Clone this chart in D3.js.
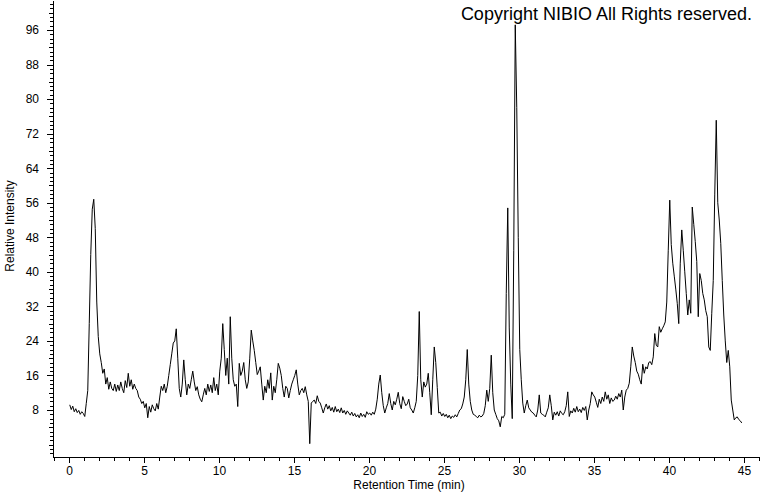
<!DOCTYPE html>
<html lang="en">
<head>
  <meta charset="UTF-8" />
  <title>Chromatogram</title>
  <script src="https://d3js.org/d3.v7.min.js"></script>
  <style>
    body {
      margin: 0;
      background: #fff;
      font-family: "Liberation Sans", Arial, sans-serif;
    }
    .axis text {
      font-family: "Liberation Sans", Arial, sans-serif;
      font-size: 12px;
      fill: #000;
    }
    .axis path, .axis line {
      stroke: #000;
      shape-rendering: crispEdges;
    }
    .trace {
      fill: none;
      stroke: #000;
      stroke-width: 1;
    }
  </style>
</head>
<body>
<svg id="chart" width="760" height="492"></svg>
<script>
// sampling of the trace (minutes)
const startTime = 0.05;
const step = 0.1;

// relative intensity, one row per minute
const intensity = [
  9.2, 8.1, 8.9, 7.6, 8.3, 7.4, 7.9, 7.0, 7.6, 7.2,
  6.5, 9.5, 12.5, 28, 44, 54.5, 56.8, 50, 33, 25,
  21, 19, 16.5, 17.5, 14, 15.5, 12.8, 14.5, 13, 12.5,
  14, 12.3, 13.8, 12.5, 14.5, 13, 12, 14.8, 13.2, 16.5,
  13.5, 15, 12.8, 14, 13, 12.5, 11, 10.5, 9.5, 10,
  8.5, 9.5, 6.2, 8.8, 7.5, 9.2, 8.3, 7.8, 9.5, 8.2,
  11, 13.5, 12.5, 14, 12, 13.5, 16, 18.5, 21, 23.5,
  24, 26.8, 20, 13, 11, 14, 19.6, 15, 11.5, 14,
  13, 15, 17, 14.5, 12.5, 13.4, 11.5, 10.5, 9.9, 11.5,
  13, 11.5, 14, 12.3, 13.8, 12, 15.5, 12.5, 14, 11.5,
  17, 20, 28, 22, 16, 20, 14, 29.6, 20, 15,
  13.5, 14, 8.8, 18.8, 16, 17, 19, 15, 13, 14.5,
  20, 26.5, 24, 21.8, 19, 16.2, 17, 18, 14, 10.3,
  13.5, 12, 15, 13, 16.6, 10.3, 13.5, 12, 15, 18.8,
  17.7, 16, 13, 11, 13.5, 13, 10.8, 12.5, 14, 15,
  16, 17.3, 14, 11.5, 12.5, 13, 12, 13.4, 11.5, 10,
  0.2, 9.6, 10, 10.3, 9.5, 11.3, 10, 9.6, 8.5, 7.3,
  8.5, 9.4, 8.2, 9, 7.8, 8.6, 7.5, 8.8, 7.6, 8.2,
  7.4, 8.5, 7.3, 7.9, 7.0, 7.8, 7.3, 6.8, 7.5, 6.6,
  7.2, 6.4, 6.9, 6.2, 7.3, 6.5, 7.0, 6.3, 7.6, 7.0,
  7.3, 6.8, 7.5, 7.0, 8.2, 10.5, 14, 16.1, 12, 9,
  7.3, 8.5, 9.5, 11.8, 9.5, 8, 10, 9.2, 10.5, 12.1,
  9.5, 8.3, 11.1, 10, 9, 9.4, 10.5, 8.5, 8, 7.3,
  8.5, 10, 16, 30.8, 15, 11, 14.5, 13.3, 14, 16.5,
  12, 6.9, 15, 22.6, 19, 13.2, 7.3, 7.5, 6.6, 7.2,
  6.5, 7, 6.2, 6.8, 6.0, 6.6, 6.3, 6.9, 6.4, 7.2,
  8, 8.3, 9.4, 11, 15, 22, 14, 10, 8, 7,
  6.8, 6.5, 6.2, 6.8, 6.4, 6.6, 7.2, 9, 12.6, 10,
  13, 20.7, 12, 8, 7, 6, 5.5, 4.1, 6.5, 6.2,
  7, 35, 54.8, 27, 14, 6, 45, 97.2, 78, 48,
  22, 15, 9.6, 7.3, 9, 10.3, 8.5, 8, 7.5, 7.3,
  6.8, 6.4, 8, 11.5, 7.3, 7, 6.8, 6.4, 7.5, 8.5,
  11.5, 9, 5.7, 7.5, 6.8, 7.6, 6.6, 7.8, 7.2, 6.9,
  7.6, 9, 12.2, 6.5, 7.8, 7.3, 8.4, 7.5, 8.8, 7.6,
  8.2, 7.4, 8.6, 7.9, 8.8, 5.7, 8, 9.5, 12.2, 11.5,
  11, 9.8, 8.6, 10.5, 9.5, 11, 10, 12.2, 10.5, 11.5,
  9.5, 10.8, 10, 10.3, 11.2, 10.5, 11.8, 11, 12.6, 8,
  11, 12.6, 13, 14.2, 18, 22.6, 20.5, 19, 17, 16.3,
  15, 14, 18.6, 16.5, 18, 17.5, 19, 19.2, 18.5, 20.3,
  25.7, 23, 22.6, 27.3, 26, 26.8, 27.5, 28.4, 33, 45,
  56.6, 46.3, 42, 39, 36, 32.7, 28, 42, 49.7, 45,
  40, 35, 30, 33.5, 30.4, 55, 51, 47, 42.4, 29.6,
  39.6, 38, 35, 33.5, 31, 29.6, 22.6, 21.8, 30.4, 38,
  58, 75.1, 56, 52, 46.6, 38, 30, 24, 19, 21.8,
  18, 10.3, 8, 5.7, 6.2, 6.4, 5.8, 5.5, 5.0
];

// tick labels
const xTicks = [0, 5, 10, 15, 20, 25, 30, 35, 40, 45];
const yTicks = [8, 16, 24, 32, 40, 48, 56, 64, 72, 80, 88, 96];

const svg = d3.select("#chart");
const width = +svg.attr("width"), height = +svg.attr("height");
const plot = {left: 53, right: 760, top: 0, bottom: 457};

// calibrated so 0 and 45 min, 8 and 96 fall where the reference puts them
const x = d3.scaleLinear().domain([0, 45]).range([69, 744]);
const y = d3.scaleLinear().domain([8, 96]).range([410, 30]);

const xAxisScale = x.copy().domain([x.invert(plot.left), x.invert(plot.right)]).range([plot.left, plot.right]);
const yAxisScale = y.copy().domain([y.invert(plot.bottom), y.invert(plot.top)]).range([plot.bottom, plot.top]);

const xMinor = d3.range(-1, 47, 1);
const yMinor = d3.range(-2, 103, 1);
const yMid = d3.range(-0, 104, 4);

// x axis
svg.append("g")
  .attr("class", "axis")
  .attr("transform", `translate(0,${plot.bottom})`)
  .call(d3.axisBottom(xAxisScale).tickValues(xMinor).tickSize(4).tickSizeOuter(0).tickFormat(""));
svg.append("g")
  .attr("class", "axis")
  .attr("transform", `translate(0,${plot.bottom})`)
  .call(d3.axisBottom(xAxisScale).tickValues(xTicks).tickSize(6).tickSizeOuter(0).tickPadding(3))
  .call(g => g.select(".domain").remove());

// y axis
svg.append("g")
  .attr("class", "axis")
  .attr("transform", `translate(${plot.left},0)`)
  .call(d3.axisLeft(yAxisScale).tickValues(yMinor).tickSize(3).tickSizeOuter(0).tickFormat(""));
svg.append("g")
  .attr("class", "axis")
  .attr("transform", `translate(${plot.left},0)`)
  .call(d3.axisLeft(yAxisScale).tickValues(yMid).tickSize(4).tickSizeOuter(0).tickFormat(""))
  .call(g => g.select(".domain").remove());
svg.append("g")
  .attr("class", "axis")
  .attr("transform", `translate(${plot.left},0)`)
  .call(d3.axisLeft(yAxisScale).tickValues(yTicks).tickSize(6).tickSizeOuter(0).tickPadding(8))
  .call(g => g.select(".domain").remove());

// trace
const line = d3.line()
  .x((d, i) => x(startTime + i * step))
  .y(d => y(d));

svg.append("path")
  .datum(intensity)
  .attr("class", "trace")
  .attr("d", line);

// titles
svg.append("text")
  .attr("x", 409)
  .attr("y", 489)
  .attr("text-anchor", "middle")
  .style("font-size", "12px")
  .text("Retention Time (min)");

svg.append("text")
  .attr("transform", "translate(14,226) rotate(-90)")
  .attr("text-anchor", "middle")
  .style("font-size", "12px")
  .text("Relative Intensity");

svg.append("text")
  .attr("x", 752)
  .attr("y", 20)
  .attr("text-anchor", "end")
  .style("font-size", "18px")
  .text("Copyright NIBIO All Rights reserved.");
</script>
</body>
</html>
